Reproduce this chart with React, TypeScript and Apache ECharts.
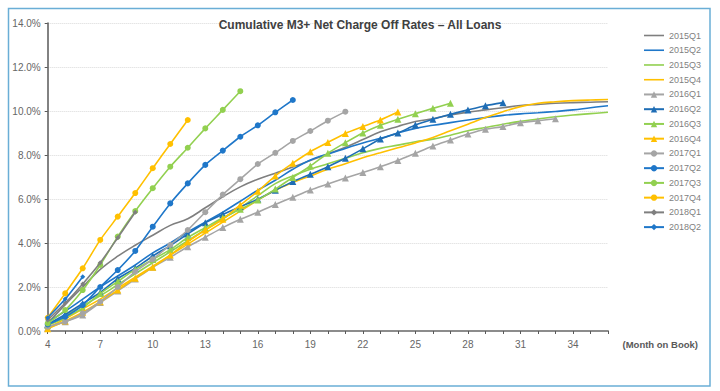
import React, { useEffect, useRef } from "react";
import * as echarts from "echarts";

const months: string[] = [];
for (let m = 4; m <= 36; m++) months.push(String(m));

const seriesNames = [
  "2015Q1", "2015Q2", "2015Q3", "2015Q4",
  "2016Q1", "2016Q2", "2016Q3", "2016Q4",
  "2017Q1", "2017Q2", "2017Q3", "2017Q4",
  "2018Q1", "2018Q2",
];

const v2015Q1 = [0.35, 1.2, 2.0, 2.8, 3.4, 3.9, 4.35, 4.8, 5.1, 5.6, 6.1, 6.55, 6.9, 7.17, 7.45, 7.75, 8.05, 8.35, 8.7, 9.06, 9.3, 9.52, 9.65, 9.82, 9.95, 10.05, 10.15, 10.25, 10.3, 10.35, 10.38, 10.4, 10.42];
const v2015Q2 = [0.4, 0.9, 1.45, 2.0, 2.5, 3.0, 3.55, 4.0, 4.5, 4.95, 5.4, 5.9, 6.4, 6.85, 7.35, 7.77, 8.05, 8.3, 8.55, 8.76, 9.0, 9.21, 9.35, 9.47, 9.59, 9.7, 9.8, 9.87, 9.92, 9.98, 10.05, 10.15, 10.24];
const v2015Q3 = [0.3, 0.7, 1.15, 1.6, 2.1, 2.6, 3.1, 3.6, 4.1, 4.6, 5.1, 5.6, 6.15, 6.7, 7.05, 7.35, 7.6, 7.85, 8.1, 8.3, 8.45, 8.6, 8.72, 8.9, 9.1, 9.25, 9.4, 9.53, 9.63, 9.74, 9.82, 9.88, 9.94];
const v2015Q4 = [0.15, 0.55, 1.0, 1.45, 1.95, 2.45, 2.95, 3.45, 3.95, 4.45, 4.95, 5.45, 5.95, 6.4, 6.75, 7.05, 7.35, 7.6, 7.88, 8.1, 8.33, 8.55, 8.8, 9.1, 9.4, 9.7, 9.97, 10.2, 10.35, 10.42, 10.47, 10.5, 10.52];
const v2016Q1 = [0.15, 0.42, 0.73, 1.29, 1.82, 2.36, 2.9, 3.35, 3.83, 4.26, 4.7, 5.08, 5.4, 5.75, 6.08, 6.41, 6.68, 6.95, 7.2, 7.47, 7.75, 8.08, 8.41, 8.68, 8.95, 9.17, 9.29, 9.47, 9.56, 9.65];
const v2016Q2 = [0.3, 0.75, 1.25, 1.75, 2.38, 2.85, 3.41, 3.88, 4.41, 4.92, 5.3, 5.65, 5.99, 6.4, 6.79, 7.12, 7.47, 7.85, 8.28, 8.73, 9.0, 9.36, 9.62, 9.85, 10.05, 10.24, 10.38];
const v2016Q3 = [0.25, 0.6, 1.05, 1.7, 2.25, 2.8, 3.25, 3.7, 4.25, 4.7, 5.15, 5.53, 5.95, 6.45, 6.98, 7.5, 8.08, 8.56, 9.0, 9.35, 9.62, 9.88, 10.12, 10.35];
const v2016Q4 = [0.1, 0.45, 0.85, 1.33, 1.86, 2.4, 2.9, 3.45, 4.06, 4.59, 5.08, 5.73, 6.35, 7.05, 7.63, 8.15, 8.57, 8.98, 9.29, 9.59, 9.95];
const v2017Q1 = [0.2, 0.42, 0.8, 1.33, 2.0, 2.7, 3.26, 3.91, 4.59, 5.4, 6.2, 6.9, 7.59, 8.1, 8.64, 9.09, 9.56, 9.97];
const v2017Q2 = [0.3, 0.65, 1.18, 2.0, 2.77, 3.64, 4.74, 5.8, 6.71, 7.55, 8.2, 8.83, 9.35, 9.94, 10.5];
const v2017Q3 = [0.35, 0.95, 1.86, 3.0, 4.29, 5.45, 6.49, 7.47, 8.33, 9.21, 10.05, 10.9];
const v2017Q4 = [0.6, 1.71, 2.85, 4.14, 5.2, 6.27, 7.4, 8.5, 9.59];
const v2018Q1 = [0.5, 1.27, 2.14, 3.1, 4.24, 5.4];
const v2018Q2 = [0.6, 1.45, 2.47];

const yTicks = [0, 2, 4, 6, 8, 10, 12, 14];

const seriesValues = [
  v2015Q1, v2015Q2, v2015Q3, v2015Q4,
  v2016Q1, v2016Q2, v2016Q3, v2016Q4,
  v2017Q1, v2017Q2, v2017Q3, v2017Q4,
  v2018Q1, v2018Q2,
];

const GRAY_D = "#7f7f7f";
const GRAY_L = "#a5a5a5";
const BLUE = "#1f77c9";
const BLUE_D = "#1e6db5";
const GREEN = "#92d050";
const GOLD = "#ffc000";

const colors = [
  GRAY_D, BLUE, GREEN, GOLD,
  GRAY_L, BLUE_D, GREEN, GOLD,
  GRAY_L, BLUE, GREEN, GOLD,
  GRAY_D, BLUE,
];
const symbols = [
  "none", "none", "none", "none",
  "triangle", "triangle", "triangle", "triangle",
  "circle", "circle", "circle", "circle",
  "diamond", "diamond",
];
const symbolSizes = [0, 0, 0, 0, 7, 7, 7, 7, 6, 6, 6, 6, 5, 5];

const FONT = "'Liberation Sans', Arial, sans-serif";
const LINE_ICON = "path://M0,0 L20,0 L20,1.6 L0,1.6 Z";

export default function App() {
  const ref = useRef<HTMLDivElement>(null);
  useEffect(() => {
    if (!ref.current) return;
    const chart = echarts.init(ref.current, undefined, { renderer: "svg" });
    const series = seriesNames.map((name, i) => {
      const vals = seriesValues[i];
      const data = months.map((_, k) => (k < vals.length ? vals[k] : null));
      return {
        name,
        type: "line",
        data,
        smooth: i < 4 ? 0.4 : 0.2,
        symbol: symbols[i],
        symbolSize: symbolSizes[i],
        showSymbol: symbols[i] !== "none",
        lineStyle: { color: colors[i], width: 1.6 },
        itemStyle: { color: colors[i] },
        connectNulls: false,
        z: 2 + i,
      };
    });
    const legendData = seriesNames.map((name, i) =>
      symbols[i] === "none"
        ? { name, icon: LINE_ICON, itemStyle: { color: colors[i] } }
        : { name }
    );
    chart.setOption({
      animation: false,
      backgroundColor: "#ffffff",
      textStyle: { fontFamily: FONT },
      title: {
        text: "Cumulative M3+ Net Charge Off Rates \u2013 All Loans",
        left: "center",
        top: 14,
        textStyle: { fontSize: 12, fontWeight: "bold", color: "#404040", fontFamily: FONT },
      },
      legend: {
        orient: "vertical",
        left: 643,
        top: 31,
        padding: 0,
        itemWidth: 20,
        itemHeight: 8,
        itemGap: 5.74,
        textStyle: { fontSize: 9, lineHeight: 8, color: "#7f7f7f", fontFamily: FONT },
        data: legendData,
      },
      grid: { left: 47.7, right: 112, top: 23, bottom: 60 },
      xAxis: {
        type: "category",
        data: months,
        boundaryGap: false,
        axisLine: { lineStyle: { color: "#8c8c8c", width: 2 } },
        axisTick: { show: true, interval: 0, length: 3, lineStyle: { color: "#595959" } },
        axisLabel: {
          interval: (idx: number) => idx % 3 === 0 && idx < 32,
          color: "#666666",
          fontSize: 10,
          margin: 8,
          fontFamily: FONT,
        },
        splitLine: { show: false },
      },
      yAxis: {
        type: "value",
        min: yTicks[0],
        max: yTicks[yTicks.length - 1],
        interval: 2,
        axisLine: { show: true, lineStyle: { color: "#595959", width: 1.5 } },
        axisTick: { show: true, length: 3, lineStyle: { color: "#595959" } },
        axisLabel: {
          formatter: (v: number) => v.toFixed(1) + "%",
          color: "#666666",
          fontSize: 10,
          margin: 7,
          fontFamily: FONT,
        },
        splitLine: { lineStyle: { color: "#d9d9d9", type: "dotted", width: 1 } },
      },
      graphic: [
        {
          type: "rect",
          shape: { x: 8.5, y: 8.5, width: 701.5, height: 377.5 },
          style: { fill: "none", stroke: "#6aaed6", lineWidth: 1.5 },
          silent: true,
          z: 0,
        },
        {
          type: "text",
          x: 622.5,
          y: 344,
          style: {
            text: "(Month on Book)",
            fontSize: 9.5,
            fontWeight: "bold",
            fill: "#595959",
            fontFamily: FONT,
            verticalAlign: "middle",
          },
        },
      ],
      series,
    });
    return () => chart.dispose();
  }, []);
  return (
    <div
      ref={ref}
      style={{ position: "absolute", left: 0, top: 0, width: 720, height: 391 }}
    />
  );
}
